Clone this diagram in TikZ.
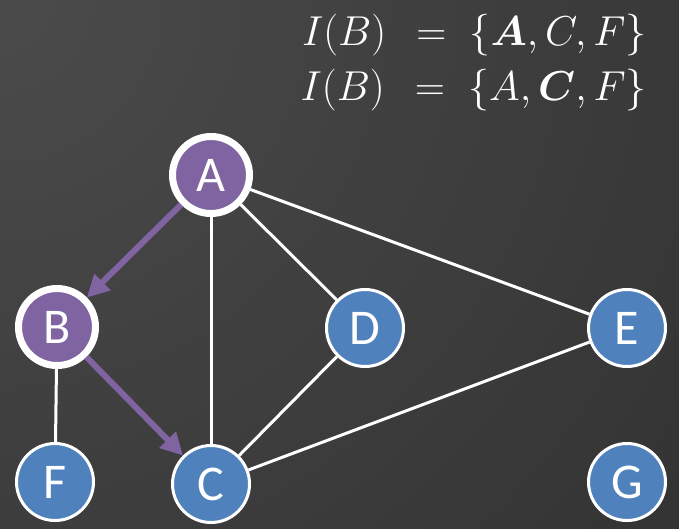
\documentclass[tikz,border=0pt]{standalone}
\usepackage{amsmath}
\usepackage{fontspec}
\newfontfamily\nodefont{Carlito}
\usetikzlibrary{arrows.meta}
\definecolor{nblue}{HTML}{4F81BD}
\definecolor{npurple}{HTML}{8064A2}
\definecolor{bginner}{HTML}{4B4B4B}
\definecolor{bgouter}{HTML}{1C1C1C}
\tikzset{
  vtx/.style={circle, minimum size=77pt, inner sep=0pt, draw=white, line width=3pt,
    fill=nblue, text=white, font=\nodefont\fontsize{50}{50}\selectfont},
  vtxsel/.style={vtx, fill=npurple, line width=7pt},
  edge/.style={draw=white, line width=3pt},
  arc/.style={draw=npurple, line width=6pt, -{Triangle[length=22pt,width=22pt]}},
  eqn/.style={anchor=base east, text=white, inner sep=0pt, transform shape, scale=1.68,
    font=\fontsize{24.88}{30}\selectfont}
}
\begin{document}
\begin{tikzpicture}[x=1pt,y=-1pt]
\useasboundingbox (0,0) rectangle (679,528);
\begin{scope}
\clip (0,0) rectangle (679,528);
\shade[inner color=bginner, outer color=bgouter] (0,0) circle (1720pt);
\end{scope}
\node[vtxsel] (A) at (211,175) {A};
\node[vtxsel] (B) at (57,327) {B};
\node[vtx] (D) at (365,328) {D};
\node[vtx] (E) at (627,328) {E};
\node[vtx] (F) at (55,482) {F};
\node[vtx] (C) at (211,484) {C};
\node[vtx] (G) at (627,482) {G};
\draw[edge] (A) -- (C);
\draw[edge] (A) -- (D);
\draw[edge] (A) -- (E);
\draw[edge] (B) -- (F);
\draw[edge] (D) -- (C);
\draw[edge] (E) -- (C);
\draw[arc] (A) -- (B);
\draw[arc] (B) -- (C);
\node[eqn] (eq1) at (647,45) {$I(B)\mskip 8mu=\mskip 5mu\{\boldsymbol{A},C,F\}$};
\node[eqn] (eq2) at (647,100) {$I(B)\mskip 8mu=\mskip 5mu\{A,\boldsymbol{C},F\}$};
\end{tikzpicture}
\end{document}
